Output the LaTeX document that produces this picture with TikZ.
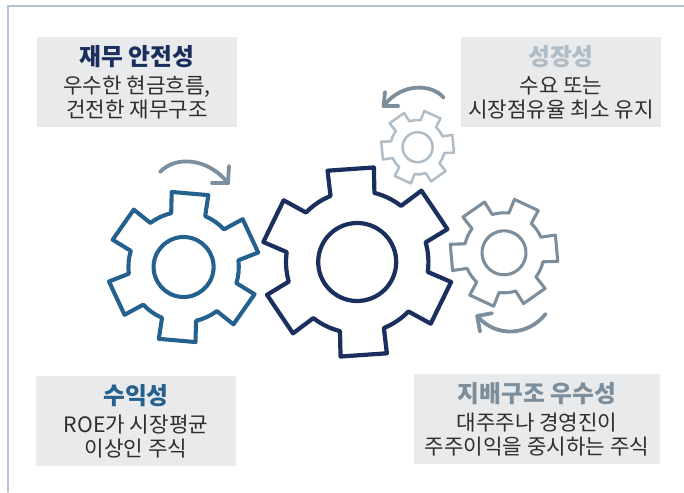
\documentclass[tikz,border=0pt]{standalone}
\RequirePackage{fontspec}
\RequirePackage{tikz}
\RequirePackage{tkz-euclide}
\setmainfont{Noto Sans CJK KR}
\definecolor{navygear}{HTML}{1B2F5E}
\definecolor{bluegear}{HTML}{25618F}
\definecolor{slategear}{HTML}{7C8D9C}
\definecolor{palegear}{HTML}{B0BCC6}
\definecolor{boxfill}{HTML}{E9EAEC}
\definecolor{framelne}{HTML}{B4C3D3}
\definecolor{bodytext}{HTML}{2E2E2E}
\tikzset{
    infobox/.style={fill=boxfill,text=bodytext,align=center,inner sep=0pt,minimum width=5cm,minimum height=2.25cm,font=\fontsize{15.1}{17}\selectfont},
    turnline/.style={draw=slategear,line width=2.7pt,line cap=round,line join=round},
    framelines/.style={draw=framelne,line width=1.1pt}
}
\newcommand{\titletext}[2]{{\fontsize{16.9}{19}\selectfont\bfseries\textcolor{#1}{#2}}\\[3pt]}
% center, rotation, colour and width, then outer, root and hole radius
\newcommand{\drawgear}[7]{
    \begin{scope}[shift={(#1,#2)},rotate=#3]
        \draw[#4,line join=round] (-18:#6)
            \foreach \a in {0,60,...,300}{
                -- (\a-14:#5) -- (\a+14:#5) -- (\a+18:#6)
                arc[start angle=\a+18,end angle=\a+42,radius=#6]
            } -- cycle;
        \draw[#4] (0,0) circle[radius=#7];
    \end{scope}
}

\begin{document}
\begin{tikzpicture}
    \useasboundingbox (0,0) rectangle (17.1,12.3);
    \tkzInit[xmin=0,xmax=17.1,ymin=0,ymax=12.3]
    \tkzClip
    \tkzDefPoint(0.2,0){FrameA}
    \tkzDefPoint(0.2,12.15){FrameB}
    \tkzDefPoint(17.1,12.15){FrameC}
    \tkzDrawSegments[framelines](FrameA,FrameB FrameB,FrameC)

    \node[infobox] (stable) at (3.425,10.25) {\titletext{navygear}{재무 안전성}우수한 현금흐름,\\건전한 재무구조};
    \node[infobox] (growth) at (14.025,10.25) {\titletext{palegear}{성장성}수요 또는\\시장점유율 최소 유지};
    \node[infobox] (profit) at (3.4,1.775) {\titletext{bluegear}{수익성}ROE가 시장평균\\이상인 주식};
    \node[infobox,minimum width=6.15cm] (govern) at (13.425,1.825) {\titletext{slategear}{지배구조 우수성}대주주나 경영진이\\주주이익을 중시하는 주식};

    \drawgear{4.59}{5.625}{85}{draw=bluegear,line width=2.9pt}{1.9}{1.38}{0.75}
    \drawgear{8.93}{5.75}{94}{draw=navygear,line width=3pt}{2.4}{1.78}{0.975}
    \drawgear{12.6}{5.98}{5}{draw=slategear,line width=2.2pt}{1.36}{1.0}{0.55}
    \drawgear{10.44}{8.62}{5.5}{draw=palegear,line width=1.8pt}{0.92}{0.68}{0.375}

    \tkzDefPoint(4.0,8.0){TurnA}
    \tkzDefPoint(5.7,7.725){TipA}
    \tkzDefPoint(5.725,8.15){ArmAa}
    \tkzDefPoint(5.3,7.725){ArmAb}
    \draw[turnline] (TurnA) .. controls (4.4,8.42) and (5.2,8.35) .. (TipA);
    \tkzDrawSegments[turnline](TipA,ArmAa TipA,ArmAb)

    \tkzDefPoint(11.09,9.86){TurnB}
    \tkzDefPoint(9.59,9.65){TipB}
    \tkzDefPoint(9.625,10.0){ArmBa}
    \tkzDefPoint(9.95,9.65){ArmBb}
    \draw[turnline] (TurnB) .. controls (10.8,10.2) and (10.05,10.25) .. (TipB);
    \tkzDrawSegments[turnline](TipB,ArmBa TipB,ArmBb)

    \tkzDefPoint(13.64,4.45){TurnC}
    \tkzDefPoint(11.93,4.4){TipC}
    \tkzDefPoint(12.3,4.47){ArmCa}
    \tkzDefPoint(12.0,4.01){ArmCb}
    \draw[turnline] (TurnC) .. controls (13.2,3.9) and (12.4,3.85) .. (TipC);
    \tkzDrawSegments[turnline](TipC,ArmCa TipC,ArmCb)
\end{tikzpicture}
\end{document}
